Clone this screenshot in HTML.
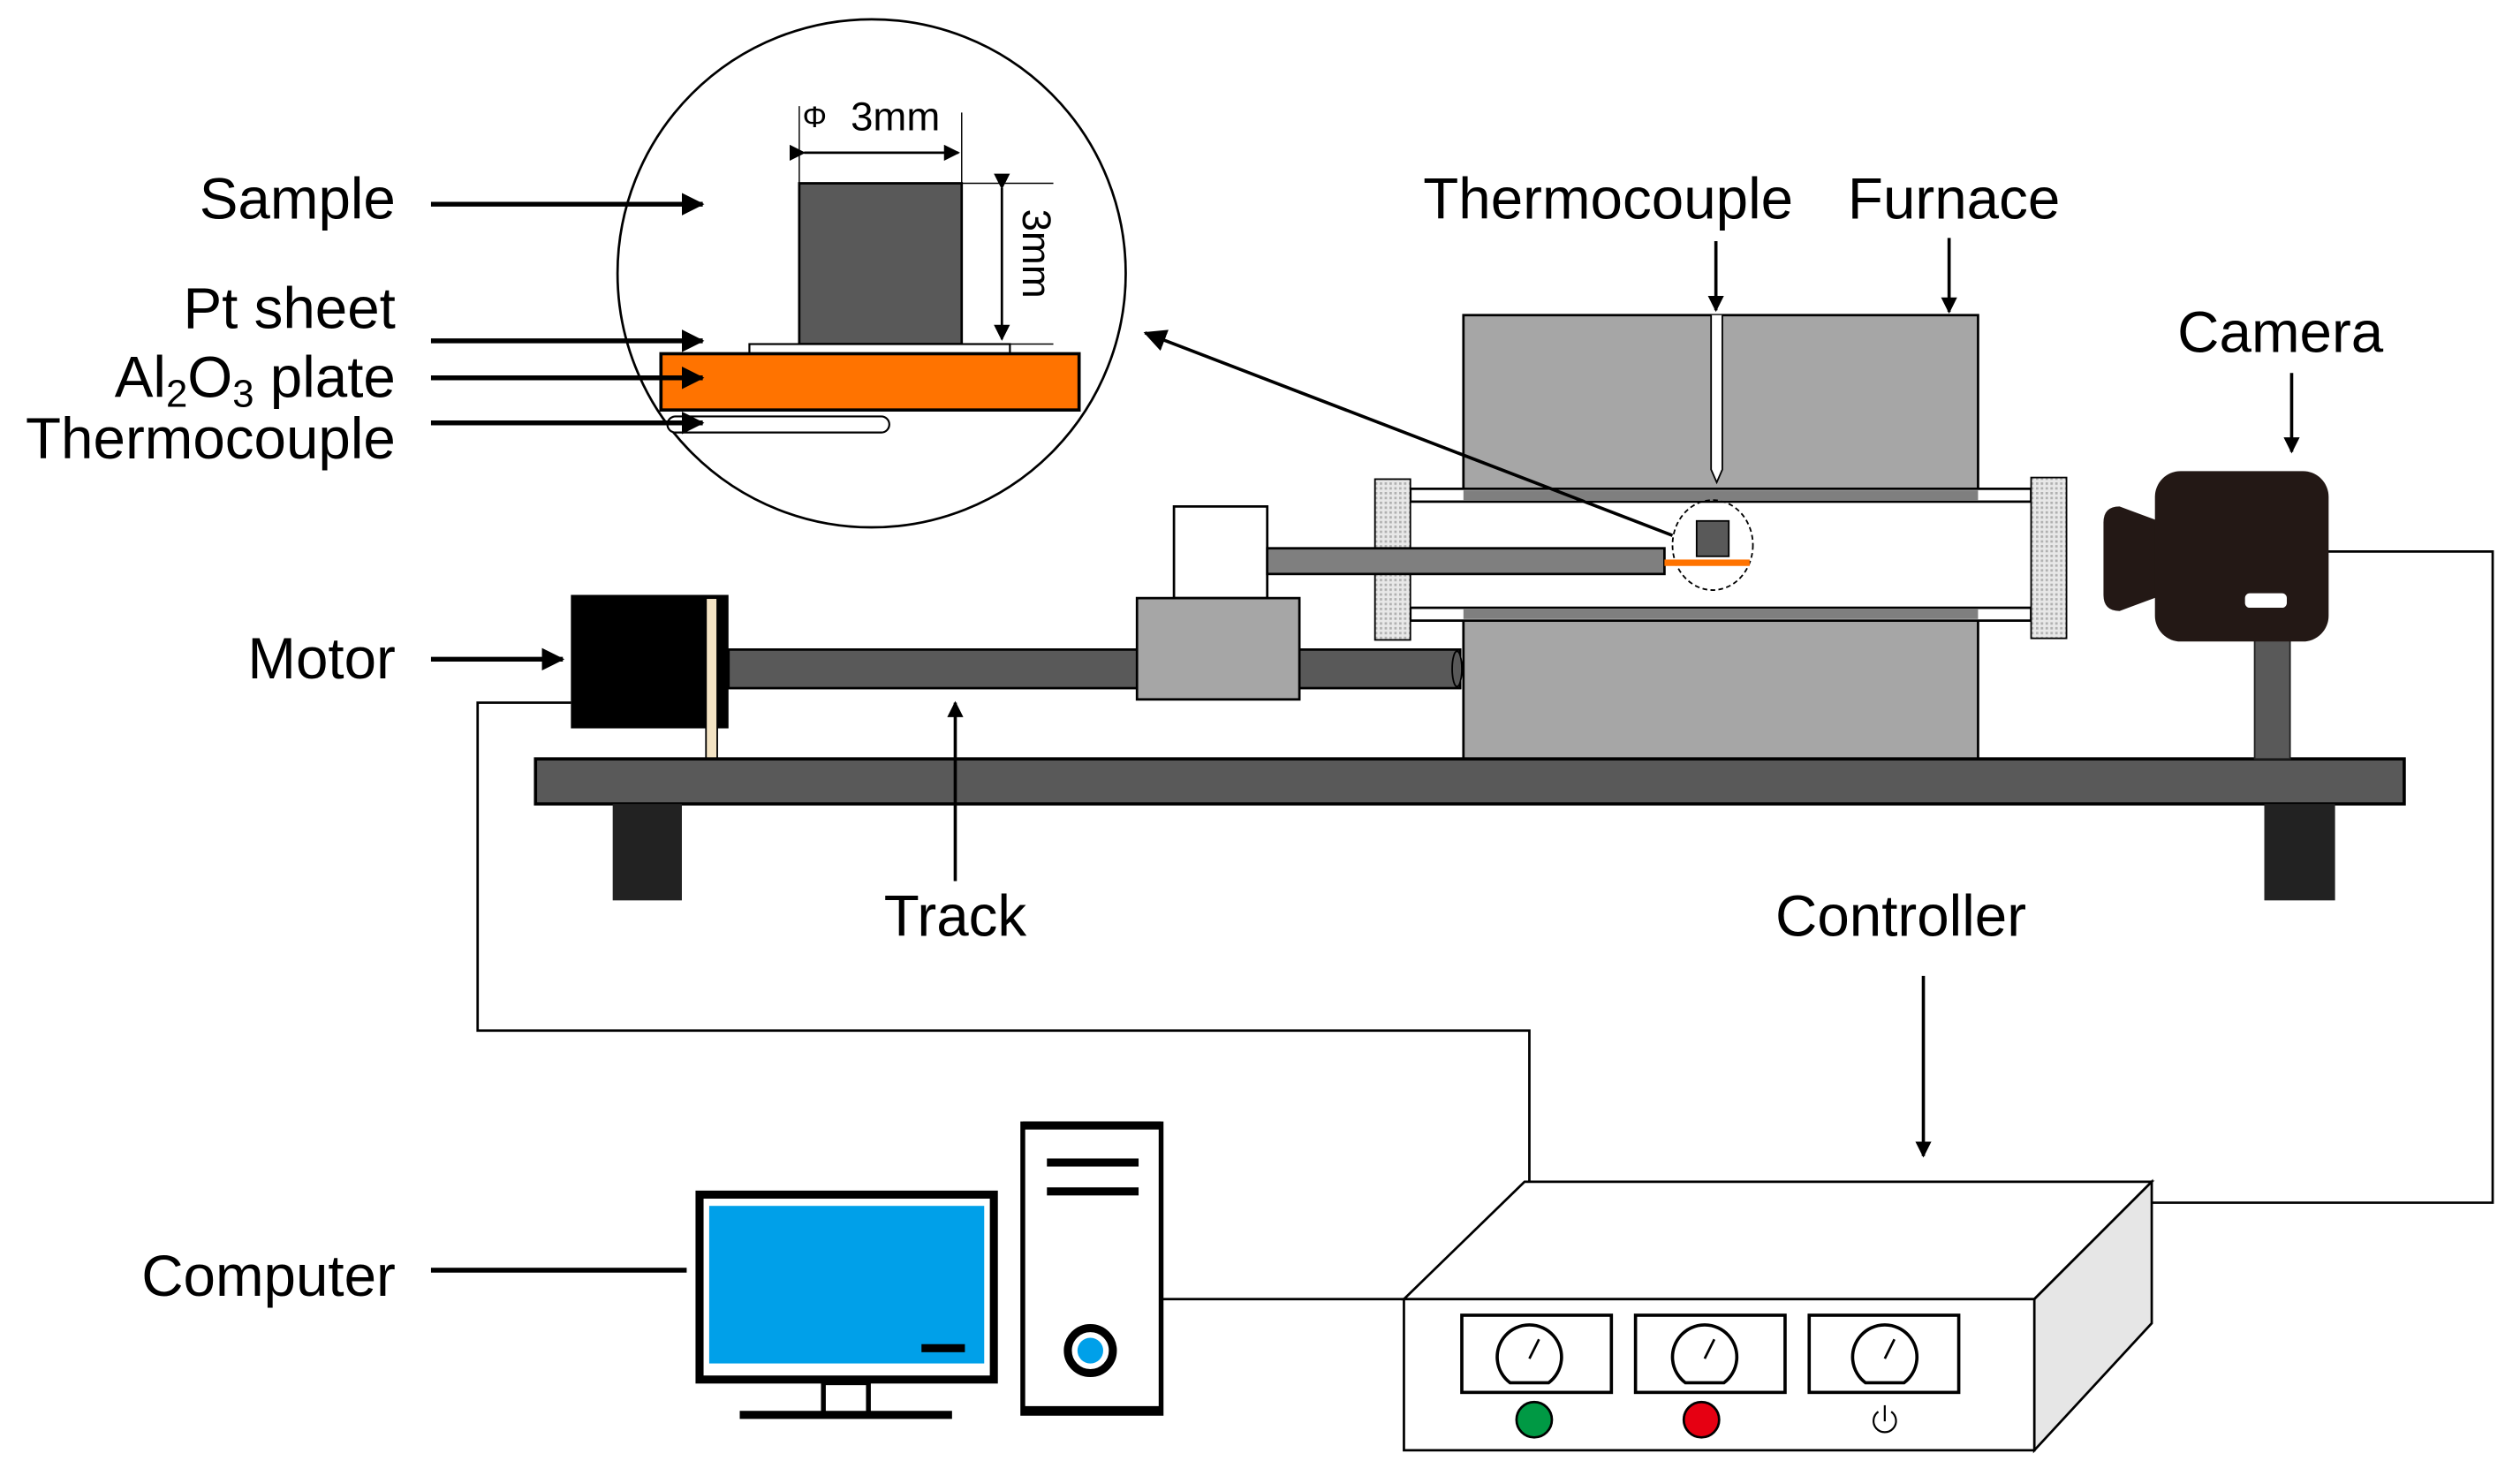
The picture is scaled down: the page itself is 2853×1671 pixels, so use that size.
<!DOCTYPE html>
<html><head><meta charset="utf-8"><style>html,body{margin:0;padding:0;background:#fff}svg{display:block}</style></head>
<body>
<svg width="2853" height="1671" viewBox="0 0 1567 918" preserveAspectRatio="none" xmlns="http://www.w3.org/2000/svg" font-family="Liberation Sans, sans-serif">
<defs>
<marker id="ah" markerWidth="10" markerHeight="10" refX="9" refY="5" orient="auto" markerUnits="userSpaceOnUse"><path d="M0,0 L10,5 L0,10 Z" fill="#000"/></marker>
<marker id="ahs" markerWidth="14" markerHeight="14" refX="13" refY="7" orient="auto" markerUnits="userSpaceOnUse"><path d="M0,0 L14,7 L0,14 Z" fill="#000"/></marker>
<pattern id="hatch" width="3" height="3" patternUnits="userSpaceOnUse"><rect width="3" height="3" fill="#e8e8e8"/><rect width="1.5" height="1.5" fill="#b0b0b0"/></pattern>
</defs>

<polyline points="355,437 297,437 297,641 951,641 951,735" fill="none" stroke="#000" stroke-width="1.5"/>
<polyline points="1447,343 1550,343 1550,748 1338,748" fill="none" stroke="#000" stroke-width="1.5"/>
<line x1="722" y1="808" x2="873" y2="808" stroke="#000" stroke-width="1.5"/>

<ellipse cx="542" cy="170" rx="158" ry="158" fill="#fff" stroke="#000" stroke-width="1.5"/>
<rect x="497" y="114" width="101" height="100" fill="#595959" stroke="#000" stroke-width="1.5"/>
<rect x="466" y="214" width="162" height="6" fill="#fff" stroke="#000" stroke-width="1.2"/>
<rect x="411" y="220" width="260" height="35" fill="#FF7300" stroke="#000" stroke-width="2"/>
<rect x="415" y="259" width="138" height="10" rx="5" fill="#fff" stroke="#000" stroke-width="1.2"/>
<line x1="497" y1="66" x2="497" y2="114" stroke="#000" stroke-width="0.8"/>
<line x1="598" y1="70" x2="598" y2="114" stroke="#000" stroke-width="0.8"/>
<line x1="500" y1="95" x2="596" y2="95" stroke="#000" stroke-width="1.5" marker-start="url(#ah)" marker-end="url(#ah)"/>
<text x="499" y="79" font-size="19">Φ</text>
<text x="529" y="81" font-size="25">3mm</text>
<line x1="598" y1="114" x2="655" y2="114" stroke="#000" stroke-width="0.8"/>
<line x1="628" y1="214" x2="655" y2="214" stroke="#000" stroke-width="0.8"/>
<line x1="623" y1="117" x2="623" y2="211" stroke="#000" stroke-width="1.5" marker-start="url(#ah)" marker-end="url(#ah)"/>
<text x="0" y="0" font-size="25" transform="translate(636,130) rotate(90)">3mm</text>

<g font-size="36" text-anchor="end" fill="#000">
<text x="246" y="136">Sample</text>
<text x="246" y="204">Pt sheet</text>
<text x="246" y="247">Al<tspan font-size="24" dy="6">2</tspan><tspan dy="-6">O</tspan><tspan font-size="24" dy="6">3</tspan><tspan dy="-6"> plate</tspan></text>
<text x="246" y="285">Thermocouple</text>
<text x="246" y="422">Motor</text>
<text x="246" y="806">Computer</text>
</g>
<g stroke="#000" stroke-width="3">
<line x1="268" y1="127" x2="437" y2="127" marker-end="url(#ahs)"/>
<line x1="268" y1="212" x2="437" y2="212" marker-end="url(#ahs)"/>
<line x1="268" y1="235" x2="437" y2="235" marker-end="url(#ahs)"/>
<line x1="268" y1="263" x2="437" y2="263" marker-end="url(#ahs)"/>
<line x1="268" y1="410" x2="350" y2="410" marker-end="url(#ahs)"/>
<line x1="268" y1="790" x2="427" y2="790"/>
</g>

<rect x="910" y="196" width="320" height="276" fill="#A6A6A6" stroke="#000" stroke-width="1.5"/>
<rect x="877" y="312" width="386" height="66" fill="#fff"/>
<rect x="877" y="304" width="386" height="8" fill="#fff" stroke="#000" stroke-width="1.5"/>
<rect x="910" y="305" width="320" height="6" fill="#7f7f7f"/>
<rect x="877" y="378" width="386" height="8" fill="#fff" stroke="#000" stroke-width="1.5"/>
<rect x="910" y="379" width="320" height="6" fill="#7f7f7f"/>
<path d="M1064,196 L1064,292 L1067.5,300 L1071,292 L1071,196" fill="#fff" stroke="#000" stroke-width="1"/>
<rect x="855" y="298" width="22" height="100" fill="url(#hatch)" stroke="#000" stroke-width="1"/>
<rect x="1263" y="297" width="22" height="100" fill="url(#hatch)" stroke="#000" stroke-width="1"/>

<rect x="730" y="315" width="58" height="57" fill="#fff" stroke="#000" stroke-width="1.5"/>
<rect x="788" y="341" width="247" height="16" fill="#7f7f7f" stroke="#000" stroke-width="1.5"/>
<ellipse cx="1065" cy="339" rx="25" ry="28" fill="none" stroke="#000" stroke-width="1" stroke-dasharray="3,2"/>
<rect x="1055" y="324" width="20" height="22" fill="#595959" stroke="#000" stroke-width="1"/>
<rect x="1035" y="348" width="53" height="4" fill="#FF7300"/>
<line x1="1040" y1="333" x2="712" y2="207" stroke="#000" stroke-width="2" marker-end="url(#ahs)"/>

<rect x="453" y="404" width="455" height="24" fill="#595959" stroke="#000" stroke-width="1.5"/>
<ellipse cx="906" cy="416" rx="3" ry="11" fill="#595959" stroke="#000" stroke-width="1"/>
<rect x="707" y="372" width="101" height="63" fill="#A6A6A6" stroke="#000" stroke-width="1.5"/>
<rect x="355" y="370" width="98" height="83" fill="#000"/>
<rect x="439" y="372" width="7" height="100" fill="#f3e3c3" stroke="#000" stroke-width="1"/>

<rect x="333" y="472" width="1162" height="28" fill="#595959" stroke="#000" stroke-width="2"/>
<rect x="381" y="500" width="43" height="60" fill="#222"/>
<rect x="1408" y="500" width="44" height="60" fill="#222"/>

<rect x="1402" y="396" width="22" height="76" fill="#595959" stroke="#222" stroke-width="1"/>
<path d="M1345,325 L1318,315 Q1308,315 1308,325 L1308,370 Q1308,380 1318,380 L1345,370 Z" fill="#231815"/>
<rect x="1340" y="293" width="108" height="106" rx="16" fill="#231815"/>
<rect x="1396" y="369" width="26" height="9" rx="3" fill="#fff"/>

<g font-size="36" text-anchor="middle">
<text x="1000" y="136">Thermocouple</text>
<text x="1215" y="136">Furnace</text>
<text x="1418" y="219">Camera</text>
<text x="594" y="582">Track</text>
<text x="1182" y="582">Controller</text>
</g>
<g stroke="#000" stroke-width="2">
<line x1="1067" y1="150" x2="1067" y2="193" marker-end="url(#ah)"/>
<line x1="1212" y1="148" x2="1212" y2="194" marker-end="url(#ah)"/>
<line x1="1425" y1="232" x2="1425" y2="281" marker-end="url(#ah)"/>
<line x1="594" y1="548" x2="594" y2="437" marker-end="url(#ah)"/>
<line x1="1196" y1="607" x2="1196" y2="719" marker-end="url(#ah)"/>
</g>

<rect x="435" y="743" width="183" height="115" fill="#fff" stroke="#000" stroke-width="5"/>
<rect x="441" y="750" width="171" height="98" fill="#00A0E9"/>
<rect x="573" y="836" width="27" height="5" fill="#000"/>
<rect x="512" y="860" width="28" height="20" fill="#fff" stroke="#000" stroke-width="3"/>
<line x1="460" y1="880" x2="592" y2="880" stroke="#000" stroke-width="5"/>
<rect x="636" y="699" width="86" height="180" fill="#fff" stroke="#000" stroke-width="3"/>
<line x1="636" y1="700" x2="722" y2="700" stroke="#000" stroke-width="5"/>
<line x1="636" y1="877" x2="722" y2="877" stroke="#000" stroke-width="5"/>
<line x1="651" y1="723" x2="708" y2="723" stroke="#000" stroke-width="5"/>
<line x1="651" y1="741" x2="708" y2="741" stroke="#000" stroke-width="5"/>
<circle cx="678" cy="840" r="14" fill="#fff" stroke="#000" stroke-width="5"/>
<circle cx="678" cy="840" r="8" fill="#00A0E9"/>

<polygon points="873,808 948,735 1338,735 1265,808" fill="#fff" stroke="#000" stroke-width="1.5"/>
<polygon points="1265,808 1338,735 1338,823 1265,902" fill="#e6e6e6" stroke="#000" stroke-width="1.5"/>
<rect x="873" y="808" width="392" height="94" fill="#fff" stroke="#000" stroke-width="1.5"/>
<g stroke="#000" fill="#fff">
<rect x="909" y="818" width="93" height="48" stroke-width="2"/>
<rect x="1017" y="818" width="93" height="48" stroke-width="2"/>
<rect x="1125" y="818" width="93" height="48" stroke-width="2"/>
<path d="M939,860 A20,20 0 1 1 963,860 Z" stroke-width="2"/>
<path d="M1048,860 A20,20 0 1 1 1072,860 Z" stroke-width="2"/>
<path d="M1160,860 A20,20 0 1 1 1184,860 Z" stroke-width="2"/>
<line x1="951" y1="845" x2="957" y2="833" stroke-width="1.5"/>
<line x1="1060" y1="845" x2="1066" y2="833" stroke-width="1.5"/>
<line x1="1172" y1="845" x2="1178" y2="833" stroke-width="1.5"/>
</g>
<ellipse cx="954" cy="883" rx="11" ry="11" fill="#009944" stroke="#000" stroke-width="1.5"/>
<ellipse cx="1058" cy="883" rx="11" ry="11" fill="#E60012" stroke="#000" stroke-width="1.5"/>
<path d="M1168,878 A7,7 0 1 0 1176,878" fill="none" stroke="#000" stroke-width="1.2"/>
<line x1="1172" y1="874" x2="1172" y2="884" stroke="#000" stroke-width="1.2"/>
</svg>
</body></html>
